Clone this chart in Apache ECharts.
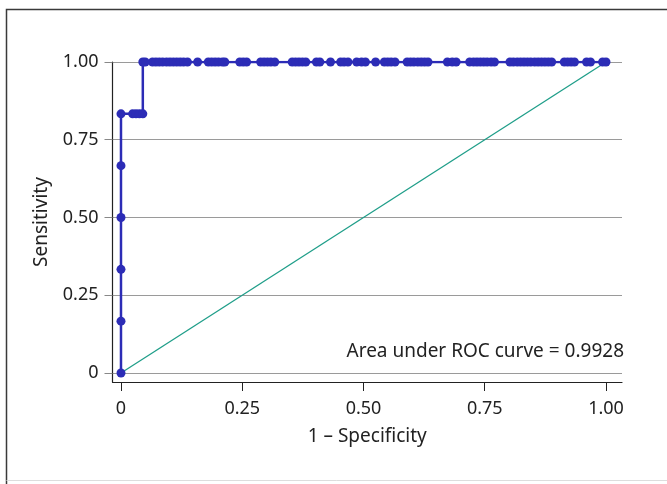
<!DOCTYPE html>
<html>
<head>
    <meta charset="utf-8">
    <script src="https://cdn.jsdelivr.net/npm/echarts@6.0.0/dist/echarts.min.js"></script>
</head>
<body style="margin: 0; background: #fff">
    <div id="container" style="width: 667px; height: 484px"></div>
    <script type="text/javascript">
        // ROC points: 1 - specificity (x) and sensitivity (y)
        var rocX = [0, 0, 0, 0, 0, 0, 0.024, 0.031, 0.038, 0.045, 0.045,
            0.050, 0.065, 0.072, 0.079, 0.086, 0.094, 0.101, 0.108, 0.115, 0.122, 0.129, 0.137,
            0.158,
            0.180, 0.187, 0.194, 0.201, 0.209, 0.214,
            0.245, 0.252, 0.259,
            0.288, 0.295, 0.302, 0.309, 0.317,
            0.353, 0.360, 0.367, 0.374, 0.381,
            0.403, 0.410,
            0.432,
            0.453, 0.460, 0.468,
            0.486, 0.496, 0.504,
            0.525,
            0.543, 0.550, 0.557, 0.565,
            0.590, 0.597, 0.604, 0.612, 0.619, 0.626, 0.633,
            0.673, 0.683, 0.691,
            0.719, 0.727, 0.734, 0.741, 0.748, 0.755, 0.763, 0.770,
            0.802, 0.809, 0.817, 0.824, 0.831, 0.838, 0.845, 0.853, 0.860, 0.867, 0.874, 0.881, 0.888,
            0.914, 0.921, 0.928, 0.935,
            0.960, 0.968,
            0.993, 1.000];
        var rocY = [0, 0.1667, 0.3333, 0.5, 0.6667, 0.8333, 0.8333, 0.8333, 0.8333, 0.8333];
        while (rocY.length < rocX.length) rocY.push(1);

        var refLine = [[0, 0], [1, 1]];
        var tickValues = [0, 0.25, 0.5, 0.75, 1];
        var tickLabels = ['0', '0.25', '0.50', '0.75', '1.00'];
        var aucText = 'Area under ROC curve = 0.9928';

        var font = 'Noto Sans';
        var rocData = rocX.map(function (x, i) { return [x, rocY[i]]; });
        function fmt(v) {
            var i = tickValues.indexOf(v);
            return i >= 0 ? tickLabels[i] : '';
        }

        var chart = echarts.init(document.getElementById('container'));
        var option = {
            animation: false,
            backgroundColor: '#fff',
            grid: { left: 112.5, right: 45, top: 62, bottom: 102 },
            xAxis: {
                type: 'value',
                min: -0.0175,
                max: 1.033,
                name: '1 \u2013 Specificity',
                nameLocation: 'middle',
                nameGap: 45,
                nameTextStyle: { fontFamily: font, fontSize: 19, color: '#222' },
                axisLine: { onZero: false, lineStyle: { color: '#222', width: 1.2 } },
                axisTick: { show: true, length: 9, customValues: tickValues, lineStyle: { color: '#222' } },
                axisLabel: { customValues: tickValues, formatter: fmt, margin: 18,
                    fontFamily: font, fontSize: 18, color: '#222' },
                splitLine: { show: false }
            },
            yAxis: {
                type: 'value',
                min: -0.029,
                max: 1,
                name: 'Sensitivity',
                nameLocation: 'middle',
                nameGap: 61,
                nameTextStyle: { fontFamily: font, fontSize: 19, color: '#222' },
                axisLine: { show: true, onZero: false, lineStyle: { color: '#222', width: 1.2 } },
                axisTick: { show: true, length: 8, customValues: tickValues, lineStyle: { color: '#888' } },
                axisLabel: { customValues: tickValues, formatter: fmt, margin: 14,
                    fontFamily: font, fontSize: 18, color: '#222' },
                splitLine: { show: true, lineStyle: { color: '#9a9a9a', width: 1.2 } }
            },
            series: [
                {
                    type: 'line',
                    data: refLine,
                    symbol: 'none',
                    lineStyle: { color: '#1f9e89', width: 1.3 },
                    z: 3
                },
                {
                    type: 'line',
                    data: rocData,
                    symbol: 'circle',
                    symbolSize: 9,
                    showAllSymbol: true,
                    itemStyle: { color: '#2c2cb6' },
                    lineStyle: { color: '#2c2cb6', width: 2.5 },
                    z: 4
                }
            ],
            graphic: [
                {
                    type: 'polyline',
                    shape: { points: [[6.5, 484], [6.5, 9.5], [667, 9.5]] },
                    style: { stroke: '#3a3a3a', lineWidth: 1.5, fill: null }
                },
                {
                    type: 'line',
                    shape: { x1: 6.5, y1: 480.5, x2: 667, y2: 480.5 },
                    style: { stroke: '#dddddd', lineWidth: 1 }
                },
                {
                    type: 'text',
                    right: 43,
                    top: 342,
                    style: { text: aucText, fontFamily: font, fontSize: 19, fill: '#222' }
                }
            ]
        };
        chart.setOption(option);
    </script>
</body>
</html>
